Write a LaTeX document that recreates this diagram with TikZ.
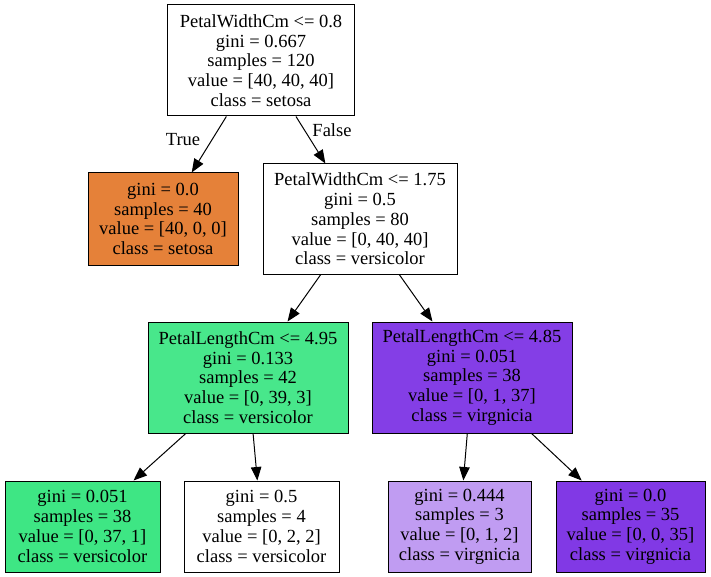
\documentclass[tikz,border=0pt]{standalone}
\usepackage{fontspec}
\setmainfont{Liberation Serif}
\usetikzlibrary{arrows.meta}
\definecolor{cset}{HTML}{E58139}
\definecolor{cgreenA}{HTML}{48E78B}
\definecolor{cgreenB}{HTML}{3EE684}
\definecolor{cpurpA}{HTML}{843EE6}
\definecolor{cpurpB}{HTML}{C09CF2}
\definecolor{cpurpC}{HTML}{8139E5}
\begin{document}
\begin{tikzpicture}[x=1pt,y=-1pt,
  box/.style={draw=black, line width=1pt, rectangle, inner sep=0pt, align=center,
    font=\fontsize{18.5}{19.75}\selectfont},
  edge/.style={-{Triangle[length=13.5pt,width=10.5pt]}, line width=1pt},
  lbl/.style={font=\fontsize{18.5}{19.75}\selectfont, inner sep=0pt}]
\useasboundingbox (0,0) rectangle (711,577);
\node[box, fill=white, minimum width=186.5pt, minimum height=111pt] (root) at (261,60.5)
  {PetalWidthCm <= 0.8\\gini = 0.667\\samples = 120\\value = [40, 40, 40]\\class = setosa};
\node[box, fill=cset, minimum width=150pt, minimum height=92pt] (setosa) at (163,219)
  {gini = 0.0\\samples = 40\\value = [40, 0, 0]\\class = setosa};
\node[box, fill=white, minimum width=194pt, minimum height=110pt] (n2) at (360,219)
  {PetalWidthCm <= 1.75\\gini = 0.5\\samples = 80\\value = [0, 40, 40]\\class = versicolor};
\node[box, fill=cgreenA, minimum width=200pt, minimum height=111pt] (n3) at (248,377.5)
  {PetalLengthCm <= 4.95\\gini = 0.133\\samples = 42\\value = [0, 39, 3]\\class = versicolor};
\node[box, fill=cpurpA, minimum width=200pt, minimum height=111pt] (n4) at (472,377.5)
  {PetalLengthCm <= 4.85\\gini = 0.051\\samples = 38\\value = [0, 1, 37]\\class = virgnicia};
\node[box, fill=cgreenB, minimum width=155pt, minimum height=91pt] (l1) at (82.5,526.5)
  {gini = 0.051\\samples = 38\\value = [0, 37, 1]\\class = versicolor};
\node[box, fill=white, minimum width=155pt, minimum height=91pt] (l2) at (261.5,526.5)
  {gini = 0.5\\samples = 4\\value = [0, 2, 2]\\class = versicolor};
\node[box, fill=cpurpB, minimum width=143pt, minimum height=91pt] (l3) at (459.5,526.5)
  {gini = 0.444\\samples = 3\\value = [0, 1, 2]\\class = virgnicia};
\node[box, fill=cpurpC, minimum width=149pt, minimum height=91pt] (l4) at (630.5,526.5)
  {gini = 0.0\\samples = 35\\value = [0, 0, 35]\\class = virgnicia};
\draw[edge] (root) -- (setosa);
\draw[edge] (root) -- (n2);
\draw[edge] (n2) -- (n3);
\draw[edge] (n2) -- (n4);
\draw[edge] (n3) -- (l1);
\draw[edge] (n3) -- (l2);
\draw[edge] (n4) -- (l3);
\draw[edge] (n4) -- (l4);
\node[lbl] (tlab) at (183,140) {True};
\node[lbl] (flab) at (332,130) {False};
\end{tikzpicture}
\end{document}
